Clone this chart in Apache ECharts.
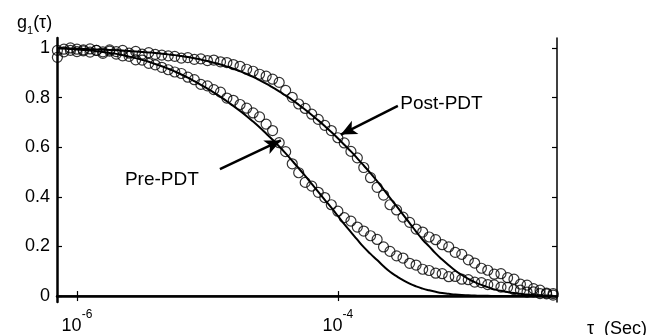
<!DOCTYPE html>
<html><head><meta charset="utf-8">
<script src="https://cdn.jsdelivr.net/npm/echarts@6/dist/echarts.min.js"></script>
<style>html,body{margin:0;padding:0;background:#fff}#c{width:655px;height:335px}</style>
</head><body><div id="c"></div>
<script>
// lag times (s)
const tau = [7.08e-7, 7.94e-7, 8.91e-7,
  1.00e-6, 1.12e-6, 1.26e-6, 1.41e-6, 1.58e-6, 1.78e-6, 2.00e-6, 2.24e-6, 2.51e-6, 2.82e-6,
  3.16e-6, 3.55e-6, 3.98e-6, 4.47e-6, 5.01e-6, 5.62e-6, 6.31e-6, 7.08e-6, 7.94e-6, 8.91e-6,
  1.00e-5, 1.12e-5, 1.26e-5, 1.41e-5, 1.58e-5, 1.78e-5, 2.00e-5, 2.24e-5, 2.51e-5, 2.82e-5,
  3.16e-5, 3.55e-5, 3.98e-5, 4.47e-5, 5.01e-5, 5.62e-5, 6.31e-5, 7.08e-5, 7.94e-5, 8.91e-5,
  1.00e-4, 1.12e-4, 1.26e-4, 1.41e-4, 1.58e-4, 1.78e-4, 2.00e-4, 2.24e-4, 2.51e-4, 2.82e-4,
  3.16e-4, 3.55e-4, 3.98e-4, 4.47e-4, 5.01e-4, 5.62e-4, 6.31e-4, 7.08e-4, 7.94e-4, 8.91e-4,
  1.00e-3, 1.12e-3, 1.26e-3, 1.41e-3, 1.58e-3, 1.78e-3, 2.00e-3, 2.24e-3, 2.51e-3, 2.82e-3,
  3.16e-3, 3.55e-3, 3.98e-3, 4.47e-3];

const preData = [0.962, 0.995, 0.99,
  0.985, 0.992, 0.983, 0.99, 0.978, 0.987, 0.975, 0.968, 0.966, 0.952,
  0.951, 0.938, 0.932, 0.922, 0.912, 0.903, 0.897, 0.882, 0.872, 0.853,
  0.847, 0.832, 0.822, 0.798, 0.789, 0.772, 0.757, 0.738, 0.722, 0.693,
  0.667, 0.618, 0.582, 0.533, 0.497, 0.458, 0.443, 0.418, 0.397, 0.368,
  0.342, 0.316, 0.302, 0.278, 0.262, 0.243, 0.228, 0.198, 0.18, 0.162,
  0.153, 0.132, 0.125, 0.108, 0.103, 0.092, 0.09, 0.078, 0.079, 0.068,
  0.066, 0.056, 0.054, 0.046, 0.045, 0.036, 0.035, 0.026, 0.024, 0.016,
  0.017, 0.01, 0.009, 0.004];

const preFit = [1.0, 0.998, 0.996,
  0.994, 0.992, 0.99, 0.987, 0.984, 0.98, 0.976, 0.971, 0.965, 0.959,
  0.952, 0.944, 0.935, 0.926, 0.916, 0.905, 0.893, 0.88, 0.866, 0.851,
  0.836, 0.82, 0.803, 0.785, 0.766, 0.746, 0.725, 0.703, 0.68, 0.655,
  0.63, 0.603, 0.575, 0.545, 0.515, 0.484, 0.452, 0.42, 0.388, 0.356,
  0.323, 0.29, 0.258, 0.227, 0.197, 0.17, 0.145, 0.12, 0.098, 0.08,
  0.064, 0.05, 0.039, 0.03, 0.023, 0.017, 0.012, 0.009, 0.006, 0.004,
  0.003, 0.002, 0.001, 0.001, 0, 0, 0, 0, 0, 0,
  0, 0, 0, 0];

const postData = [0.99, 0.984, 1.0,
  0.995, 0.988, 0.996, 0.99, 0.984, 0.992, 0.985, 0.99, 0.979, 0.986,
  0.975, 0.981, 0.974, 0.971, 0.968, 0.966, 0.959, 0.961, 0.954, 0.956,
  0.949, 0.951, 0.944, 0.941, 0.933, 0.926, 0.914, 0.906, 0.894, 0.886,
  0.874, 0.861, 0.829, 0.801, 0.774, 0.756, 0.733, 0.712, 0.688, 0.667,
  0.638, 0.617, 0.583, 0.557, 0.518, 0.477, 0.438, 0.407, 0.368, 0.347,
  0.318, 0.297, 0.27, 0.258, 0.238, 0.227, 0.207, 0.198, 0.176, 0.168,
  0.146, 0.133, 0.112, 0.104, 0.088, 0.09, 0.074, 0.068, 0.048, 0.044,
  0.03, 0.024, 0.012, 0.01];

const postFit = [1.0, 0.999, 0.998,
  0.997, 0.996, 0.995, 0.994, 0.993, 0.992, 0.991, 0.99, 0.988, 0.986,
  0.984, 0.982, 0.98, 0.977, 0.974, 0.971, 0.967, 0.963, 0.958, 0.953,
  0.947, 0.94, 0.933, 0.925, 0.916, 0.906, 0.895, 0.883, 0.87, 0.856,
  0.841, 0.825, 0.808, 0.79, 0.771, 0.751, 0.73, 0.708, 0.685, 0.661,
  0.636, 0.61, 0.583, 0.555, 0.526, 0.495, 0.463, 0.43, 0.396, 0.362,
  0.328, 0.294, 0.26, 0.227, 0.2, 0.172, 0.147, 0.124, 0.103, 0.085,
  0.069, 0.056, 0.045, 0.036, 0.027, 0.021, 0.016, 0.012, 0.009, 0.006,
  0.004, 0.003, 0.002, 0.001];

const xTickExp = [-6, -4];            // decades labelled on the tau axis
const yTicks = [0, 0.2, 0.4, 0.6, 0.8, 1];
const xRange = [-6.153, -2.32];       // log10(tau) extent of the frame
const yRange = [-0.024, 1.04];

// annotation anchors in data space [log10(tau), g1]
const preArrow = [[-4.904, 0.512], [-4.437, 0.627]];
const postArrow = [[-3.540, 0.766], [-3.977, 0.651]];
const preLabelAt = [-5.349, 0.468];
const postLabelAt = [-3.525, 0.775];

const FONT = 'Liberation Sans, Arial, sans-serif';
const pts = arr => tau.map((t, i) => [Math.log10(t), arr[i]]);

const chart = echarts.init(document.getElementById('c'), null, {renderer: 'canvas'});

const tickStyle = {color: '#000', width: 1.2};
const xAxisBase = {
  type: 'value', min: xRange[0], max: xRange[1], splitLine: {show: false}
};
const yAxisBase = {
  type: 'value', min: yRange[0], max: yRange[1], splitLine: {show: false}
};

const circleStyle = {color: 'rgba(0,0,0,0)', borderColor: '#000', borderWidth: 1.2};

chart.setOption({
  animation: false,
  backgroundColor: '#fff',
  title: [
    {
      left: 12, top: 9,
      text: '{g|g}{sub|1}{g|(τ)}',
      textStyle: {
        fontWeight: 'normal',
        rich: {
          g: {fontFamily: FONT, fontSize: 18, fontWeight: 'normal', color: '#000', lineHeight: 22, verticalAlign: 'top'},
          sub: {fontFamily: FONT, fontSize: 11, fontWeight: 'normal', color: '#000', lineHeight: 22, verticalAlign: 'bottom', padding: [8, 0, 0, 0]}
        }
      }
    },
    {
      left: 582, top: 315,
      text: 'τ  (Sec)',
      textStyle: {fontFamily: FONT, fontSize: 18, fontWeight: 'normal', color: '#000'}
    }
  ],
  grid: {left: 57, right: 98, top: 38, bottom: 28, containLabel: false},
  xAxis: [
    Object.assign({}, xAxisBase, {
      position: 'bottom',
      axisLine: {lineStyle: {color: '#000', width: 2.5}},
      axisTick: {inside: true, length: 5, customValues: xTickExp, lineStyle: tickStyle},
      axisLabel: {
        customValues: xTickExp, margin: 7,
        formatter: v => '{b|10}{s|' + v + '}',
        rich: {
          b: {fontFamily: FONT, fontSize: 18, color: '#000', lineHeight: 26, verticalAlign: 'bottom'},
          s: {fontFamily: FONT, fontSize: 12, color: '#000', lineHeight: 12, verticalAlign: 'top'}
        }
      }
    }),
    Object.assign({}, xAxisBase, {
      position: 'top',
      axisLine: {lineStyle: {color: '#000', width: 1.5}},
      axisTick: {inside: true, length: 5, customValues: xTickExp, lineStyle: tickStyle},
      axisLabel: {show: false}
    })
  ],
  yAxis: [
    Object.assign({}, yAxisBase, {
      position: 'left',
      axisLine: {lineStyle: {color: '#000', width: 2.5}},
      axisTick: {inside: true, length: 5, customValues: yTicks, lineStyle: tickStyle},
      axisLabel: {
        customValues: yTicks, margin: 7,
        formatter: v => String(v),
        fontFamily: FONT, fontSize: 18, color: '#000'
      }
    }),
    Object.assign({}, yAxisBase, {
      position: 'right',
      axisLine: {lineStyle: {color: '#000', width: 1.5}},
      axisTick: {inside: true, length: 5, customValues: yTicks, lineStyle: tickStyle},
      axisLabel: {show: false}
    })
  ],
  series: [
    {
      name: 'Pre-PDT fit', type: 'line', smooth: true, showSymbol: false,
      xAxisIndex: 0, yAxisIndex: 0,
      data: pts(preFit),
      lineStyle: {color: '#000', width: 2},
      z: 3,
      markLine: {
        silent: true, animation: false,
        symbol: ['none', 'arrow'], symbolSize: [11, 16],
        lineStyle: {color: '#000', width: 2.5, type: 'solid'},
        label: {show: false},
        data: [
          [{coord: preArrow[0]}, {coord: preArrow[1]}],
          [{coord: postArrow[0]}, {coord: postArrow[1]}]
        ]
      },
      markPoint: {
        silent: true, symbol: 'circle', symbolSize: 1,
        itemStyle: {color: 'rgba(0,0,0,0)'},
        data: [
          {coord: preLabelAt, label: {show: true, position: 'inside', formatter: 'Pre-PDT',
            fontFamily: FONT, fontSize: 19, color: '#000'}},
          {coord: postLabelAt, label: {show: true, position: 'right', distance: 0, formatter: 'Post-PDT',
            fontFamily: FONT, fontSize: 19, color: '#000'}}
        ]
      }
    },
    {
      name: 'Post-PDT fit', type: 'line', smooth: true, showSymbol: false,
      xAxisIndex: 0, yAxisIndex: 0,
      data: pts(postFit),
      lineStyle: {color: '#000', width: 2},
      z: 3
    },
    {
      name: 'Pre-PDT', type: 'scatter', symbol: 'circle', symbolSize: 10,
      xAxisIndex: 0, yAxisIndex: 0,
      data: pts(preData), itemStyle: circleStyle, z: 2
    },
    {
      name: 'Post-PDT', type: 'scatter', symbol: 'circle', symbolSize: 10,
      xAxisIndex: 0, yAxisIndex: 0,
      data: pts(postData), itemStyle: circleStyle, z: 2
    }
  ]
});
</script>
</body></html>
